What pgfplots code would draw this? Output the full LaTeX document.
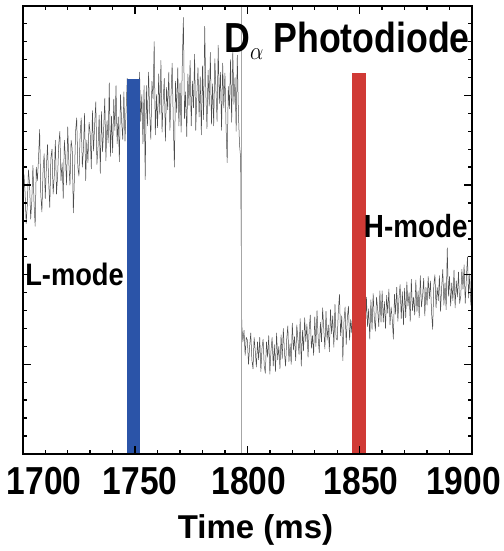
\documentclass[border=0pt]{standalone}
\usepackage{pgfplots}
\pgfplotsset{compat=1.18}
\usepackage{graphicx}
\usepackage{fontspec}
\setmainfont{Liberation Sans}

\definecolor{barblue}{RGB}{43,84,168}
\definecolor{barred}{RGB}{208,58,53}

% tick label: shifted by half of #1, squeezed horizontally
\newcommand{\tl}[2]{\makebox[0pt]{\hspace*{#1}\scalebox{0.86}[1]{#2}}}

\begin{document}
\begin{tikzpicture}
\begin{axis}[
    at={(0,0)}, anchor=south west,
    scale only axis, width=449pt, height=448pt,
    xmin=1700, xmax=1900, ymin=0, ymax=5,
    xtick={1700,1750,1800,1850,1900},
    xticklabels={\tl{43pt}{1700},\tl{10pt}{1750},\tl{3pt}{1800},\tl{3pt}{1850},\tl{-17pt}{1900}},
    minor x tick num=4,
    ytick={0,1,2,3,4,5}, yticklabels={},
    minor y tick num=4,
    tick align=inside,
    major tick length=8pt, minor tick length=4pt,
    axis line style={line width=2.2pt},
    every tick/.style={line width=1.4pt, black},
    xticklabel style={anchor=base, yshift=-41pt, inner sep=0pt,
        font=\fontsize{39}{40}\selectfont\bfseries},
    xlabel={Time (ms)},
    xlabel style={at={(axis description cs:0.518,0)}, anchor=base,
        yshift=-85pt, inner sep=0pt, font=\fontsize{33}{35}\selectfont\bfseries},
    axis on top,
    clip=true,
]
% photodiode trace
\addplot[black!70, line width=0.5pt, line join=round] coordinates {
(1700,2.72) (1700.5,3.12) (1701,2.92) (1701.5,2.57) (1702,2.77) (1702.5,3.17) (1703,3.02) (1703.5,2.62) (1704,2.82) (1704.5,3.22)
(1705,2.80) (1705.5,2.54) (1706,3.20) (1706.5,3.05) (1707,3.30) (1707.5,3.62) (1708,2.90) (1708.5,2.70) (1709,3.15) (1709.5,3.35)
(1710,2.85) (1710.5,3.20) (1711,3.45) (1711.5,3.05) (1712,2.75) (1712.5,3.30) (1713,3.40) (1713.5,2.90) (1714,3.10) (1714.5,3.50)
(1715,2.90) (1715.5,3.10) (1716,3.45) (1716.5,3.60) (1717,3.05) (1717.5,3.25) (1718,2.85) (1718.5,3.50) (1719,3.30) (1719.5,3.00)
(1720,3.65) (1720.5,3.25) (1721,3.00) (1721.5,3.50) (1722,3.40) (1722.5,2.69) (1723,3.10) (1723.5,3.60) (1724,3.75) (1724.5,3.20)
(1725,3.10) (1725.5,3.55) (1726,3.75) (1726.5,3.20) (1727,3.40) (1727.5,3.80) (1728,3.05) (1728.5,3.50) (1729,3.25) (1729.5,3.70)
(1730,3.58) (1730.5,3.18) (1731,3.83) (1731.5,3.38) (1732,3.68) (1732.5,3.93) (1733,3.23) (1733.5,3.43) (1734,3.78) (1734.5,3.13)
(1735,3.82) (1735.5,3.37) (1736,3.62) (1736.5,3.97) (1737,3.27) (1737.5,3.72) (1738,3.47) (1738.5,4.14) (1739,3.32) (1739.5,3.77)
(1740,3.36) (1740.5,3.96) (1741,3.61) (1741.5,4.11) (1742,3.46) (1742.5,3.76) (1743,3.26) (1743.5,4.01) (1744,3.71) (1744.5,3.51)
(1745,4.04) (1745.5,3.49) (1746,3.84) (1746.5,4.19) (1747,3.39) (1747.5,3.79) (1748,3.59) (1748.5,4.09) (1749,3.44) (1749.5,3.94)
(1750,3.61) (1750.5,4.16) (1751,3.86) (1751.5,3.51) (1752,4.26) (1752.5,3.71) (1753,4.01) (1753.5,3.46) (1754,4.11) (1754.5,3.06)
(1755,4.11) (1755.5,3.66) (1756,4.26) (1756.5,3.81) (1757,3.51) (1757.5,4.16) (1758,3.96) (1758.5,4.60) (1759,3.56) (1759.5,4.01)
(1760,3.64) (1760.5,4.24) (1761,3.79) (1761.5,4.39) (1762,3.59) (1762.5,3.94) (1763,4.19) (1763.5,3.49) (1764,4.09) (1764.5,3.84)
(1765,4.26) (1765.5,3.61) (1766,4.01) (1766.5,4.36) (1767,3.71) (1767.5,3.20) (1768,4.16) (1768.5,3.81) (1769,4.31) (1769.5,3.66)
(1770,4.14) (1770.5,3.59) (1771,4.34) (1771.5,4.87) (1772,3.74) (1772.5,4.04) (1773,3.54) (1773.5,4.24) (1774,3.89) (1774.5,4.39)
(1775,3.66) (1775.5,4.16) (1776,3.86) (1776.5,4.46) (1777,3.61) (1777.5,4.01) (1778,4.31) (1778.5,3.76) (1779,4.21) (1779.5,3.56)
(1780,4.33) (1780.5,3.73) (1781,4.77) (1781.5,4.03) (1782,3.63) (1782.5,4.28) (1783,3.88) (1783.5,4.48) (1784,3.68) (1784.5,4.13)
(1785,3.66) (1785.5,4.41) (1786,4.06) (1786.5,3.71) (1787,4.56) (1787.5,3.91) (1788,4.26) (1788.5,3.61) (1789,4.36) (1789.5,3.86)
(1790,4.25) (1790.5,3.65) (1791,3.25) (1791.5,4.10) (1792,3.85) (1792.5,4.40) (1793,3.70) (1793.5,4.50) (1794,3.90) (1794.5,4.20)
(1795,3.60) (1795.5,4.45) (1796,3.80) (1796.5,3.45) (1797,3.30)
(1797.5,1.45) (1798,1.25) (1798.5,1.38) (1799,1.10) (1799.5,1.30)
(1800,1.27) (1800.5,1.00) (1801,1.20) (1801.5,1.35) (1802,1.05) (1802.5,0.95) (1803,1.30) (1803.5,1.15) (1804,0.97) (1804.5,1.25)
(1805,1.05) (1805.5,1.30) (1806,0.92) (1806.5,1.18) (1807,1.28) (1807.5,0.98) (1808,0.90) (1808.5,1.25) (1809,1.08) (1809.5,1.32)
(1810,0.89) (1810.5,1.15) (1811,1.30) (1811.5,0.98) (1812,1.22) (1812.5,0.92) (1813,1.35) (1813.5,1.05) (1814,1.20) (1814.5,0.95)
(1815,1.33) (1815.5,1.06) (1816,1.40) (1816.5,1.13) (1817,0.98) (1817.5,1.28) (1818,1.43) (1818.5,1.03) (1819,1.23) (1819.5,1.00)
(1820,1.46) (1820.5,1.16) (1821,1.31) (1821.5,1.04) (1822,1.44) (1822.5,1.28) (1823,1.11) (1823.5,1.51) (1824,0.98) (1824.5,1.38)
(1825,1.15) (1825.5,1.52) (1826,1.25) (1826.5,1.45) (1827,1.08) (1827.5,1.38) (1828,1.55) (1828.5,1.18) (1829,1.32) (1829.5,1.10)
(1830,1.53) (1830.5,1.20) (1831,1.60) (1831.5,1.30) (1832,1.13) (1832.5,1.47) (1833,1.25) (1833.5,1.63) (1834,1.40) (1834.5,1.17)
(1835,1.59) (1835.5,1.27) (1836,1.44) (1836.5,1.14) (1837,1.61) (1837.5,1.34) (1838,1.54) (1838.5,1.19) (1839,1.67) (1839.5,1.29)
(1840,1.27) (1840.5,1.60) (1841,1.78) (1841.5,1.32) (1842,1.54) (1842.5,1.04) (1843,1.47) (1843.5,1.64) (1844,1.22) (1844.5,1.52)
(1845,1.65) (1845.5,1.27) (1846,1.50) (1846.5,1.35) (1847,1.70) (1847.5,1.23) (1848,1.57) (1848.5,1.40) (1849,1.63) (1849.5,1.30)
(1850,1.38) (1850.5,1.65) (1851,1.30) (1851.5,1.72) (1852,1.52) (1852.5,1.35) (1853,1.75) (1853.5,1.42) (1854,1.62) (1854.5,1.28)
(1855,1.72) (1855.5,1.39) (1856,1.79) (1856.5,1.52) (1857,1.37) (1857.5,1.75) (1858,1.62) (1858.5,1.42) (1859,1.82) (1859.5,1.47)
(1860,1.82) (1860.5,1.47) (1861,1.70) (1861.5,1.40) (1862,1.77) (1862.5,1.57) (1863,1.84) (1863.5,1.44) (1864,1.64) (1864.5,1.50)
(1865,1.28) (1865.5,1.78) (1866,1.56) (1866.5,1.86) (1867,1.48) (1867.5,1.74) (1868,1.89) (1868.5,1.51) (1869,1.81) (1869.5,1.44)
(1870,1.85) (1870.5,1.52) (1871,1.92) (1871.5,1.65) (1872,1.80) (1872.5,1.48) (1873,1.95) (1873.5,1.60) (1874,1.75) (1874.5,1.55)
(1875,1.94) (1875.5,1.59) (1876,1.82) (1876.5,1.52) (1877,1.99) (1877.5,1.64) (1878,1.76) (1878.5,1.96) (1879,1.54) (1879.5,1.86)
(1880,1.66) (1880.5,1.98) (1881,1.73) (1881.5,1.93) (1882,1.58) (1882.5,1.39) (1883,1.88) (1883.5,2.00) (1884,1.63) (1884.5,1.86)
(1885,1.71) (1885.5,1.99) (1886,1.59) (1886.5,1.86) (1887,2.06) (1887.5,1.66) (1888,1.91) (1888.5,1.61) (1889,2.30) (1889.5,1.76)
(1890,1.98) (1890.5,1.65) (1891,1.91) (1891.5,1.71) (1892,2.05) (1892.5,1.63) (1893,1.93) (1893.5,1.75) (1894,2.03) (1894.5,1.68)
(1895,1.76) (1895.5,2.06) (1896,1.84) (1896.5,2.11) (1897,1.68) (1897.5,1.96) (1898,2.20) (1898.5,1.74) (1899,2.01) (1899.5,1.66)
(1900,1.90)
};
% thin line at the transition
\addplot[black!35, line width=0.5pt] coordinates {(1797.2,0) (1797.2,5)};
% time markers
\addplot[barblue, line width=13pt] coordinates {(1749.2,0) (1749.2,4.185)};
\addplot[barred, line width=14.5pt] coordinates {(1849.8,0) (1849.8,4.25)};

\node[anchor=base east, inner sep=0pt, font=\fontsize{42}{44}\selectfont\bfseries]
    at (axis description cs:0.9955,0.895)
    {\scalebox{0.85}[1]{D\raisebox{-7pt}{\fontsize{37}{37}\selectfont$\alpha$} Photodiode}};
\node[anchor=base west, inner sep=0pt, font=\fontsize{31}{33}\selectfont\bfseries]
    at (axis description cs:0.005,0.377) {\scalebox{0.88}[1]{L-mode}};
\node[anchor=base west, inner sep=0pt, font=\fontsize{32}{34}\selectfont\bfseries]
    at (axis description cs:0.759,0.484) {\scalebox{0.87}[1]{H-mode}};
\end{axis}
\pgfresetboundingbox
\path[use as bounding box] (-22.8pt,-97pt) rectangle (480.2pt,453.8pt);
\end{tikzpicture}
\end{document}
